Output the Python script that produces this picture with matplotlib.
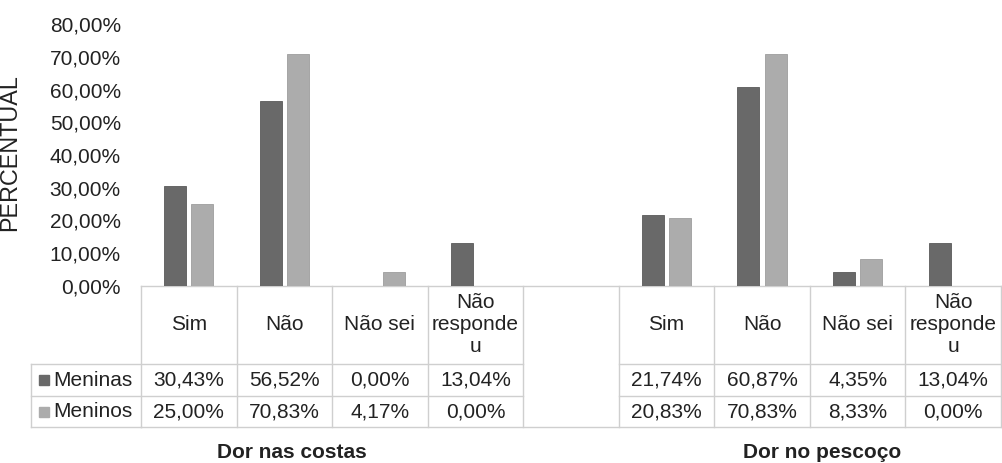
import numpy as np
import matplotlib
matplotlib.use("Agg")
import matplotlib.pyplot as plt
from matplotlib.ticker import FuncFormatter, MultipleLocator

plt.rcParams['font.family'] = ['Liberation Sans', 'DejaVu Sans']

# dados (percentuais)
categorias = ["Sim", "Não", "Não sei", "Não\nresponde\nu"]
grupos = ["Dor nas costas", "Dor no pescoço"]
series = ["Meninas", "Meninos"]
meninas_costas = [30.43, 56.52, 0.00, 13.04]
meninos_costas = [25.00, 70.83, 4.17, 0.00]
meninas_pescoco = [21.74, 60.87, 4.35, 13.04]
meninos_pescoco = [20.83, 70.83, 8.33, 0.00]

cores = ["#696969", "#acacac"]
cor_texto = "#222222"
cor_linha = "#cfcfcf"
fs = 15

W, H = 1002, 463
fig = plt.figure(figsize=(W / 100, H / 100), dpi=100)

# camada em pixels para a tabela de dados
tab = fig.add_axes([0, 0, 1, 1])
tab.set_xlim(0, W)
tab.set_ylim(H, 0)
tab.axis("off")

x0, x1 = 141, 1001
y_base, y_top = 286, 24
ax = fig.add_axes([x0 / W, (H - y_base) / H, (x1 - x0) / W, (y_base - y_top) / H])
ax.patch.set_alpha(0)

n_cols = 9
pos_costas = np.arange(4)
pos_pescoco = np.arange(4) + 5
larg = 0.23
desl = 0.143

meninas = [meninas_costas, meninas_pescoco]
meninos = [meninos_costas, meninos_pescoco]
for pos, a, b in zip([pos_costas, pos_pescoco], meninas, meninos):
    ax.bar(pos - desl, a, larg, color=cores[0], edgecolor="#5a5a5a", linewidth=0.6)
    ax.bar(pos + desl, b, larg, color=cores[1], edgecolor="#9e9e9e", linewidth=0.6)

ax.set_xlim(-0.5, n_cols - 0.5)
ax.set_ylim(0, 80)
ax.yaxis.set_major_locator(MultipleLocator(10))
ax.yaxis.set_major_formatter(FuncFormatter(lambda v, p: f"{v:.2f}".replace(".", ",") + "%"))
ax.tick_params(axis="y", length=0, pad=14.5, labelsize=fs, labelcolor=cor_texto)
ax.set_xticks([])
for s in ax.spines.values():
    s.set_visible(False)
ax.set_ylabel("PERCENTUAL", fontsize=16.8, color=cor_texto)
ax.yaxis.set_label_coords((21 - x0) / (x1 - x0), (y_base - 153) / (y_base - y_top))

# tabela
cw = (x1 - x0) / n_cols
xs = x0 + cw * np.arange(n_cols + 1)
y_h, y_r1, y_r2 = 364, 396, 427
x_lab = 31
lw = 1.0

tab.plot([x0, x1], [y_base, y_base], color=cor_linha, lw=lw)
tab.plot([x0, x1], [y_r2, y_r2], color=cor_linha, lw=lw)
tab.plot([x_lab, x0], [y_r2, y_r2], color=cor_linha, lw=lw)
for yy in (y_h, y_r1):
    tab.plot([x_lab, xs[4]], [yy, yy], color=cor_linha, lw=lw)
    tab.plot([xs[5], x1], [yy, yy], color=cor_linha, lw=lw)
for xx in xs:
    tab.plot([xx, xx], [y_base, y_r2], color=cor_linha, lw=lw)
tab.plot([x_lab, x_lab], [y_h, y_r2], color=cor_linha, lw=lw)

def fmt(v):
    return f"{v:.2f}".replace(".", ",") + "%"

yc_h = (y_base + y_h) / 2
yc = [(y_h + y_r1) / 2, (y_r1 + y_r2) / 2]
for g, pos in enumerate([pos_costas, pos_pescoco]):
    for i, p in enumerate(pos):
        xc = (xs[p] + xs[p + 1]) / 2
        tab.text(xc, yc_h, categorias[i], ha="center", va="center", fontsize=fs,
                 color=cor_texto, linespacing=1.2)
        tab.text(xc, yc[0], fmt(meninas[g][i]), ha="center", va="center", fontsize=fs, color=cor_texto)
        tab.text(xc, yc[1], fmt(meninos[g][i]), ha="center", va="center", fontsize=fs, color=cor_texto)

for j, nome in enumerate(series):
    tab.add_patch(plt.Rectangle((39.5, yc[j] - 5), 10, 10, color=cores[j]))
    tab.text(53, yc[j], nome, ha="left", va="center", fontsize=fs, color=cor_texto)

for nome, xc in zip(grupos, [292, 822]):
    tab.text(xc, 452, nome, ha="center", va="center", fontsize=fs,
             fontweight="bold", color=cor_texto)

fig.savefig("out.png", dpi=100)
